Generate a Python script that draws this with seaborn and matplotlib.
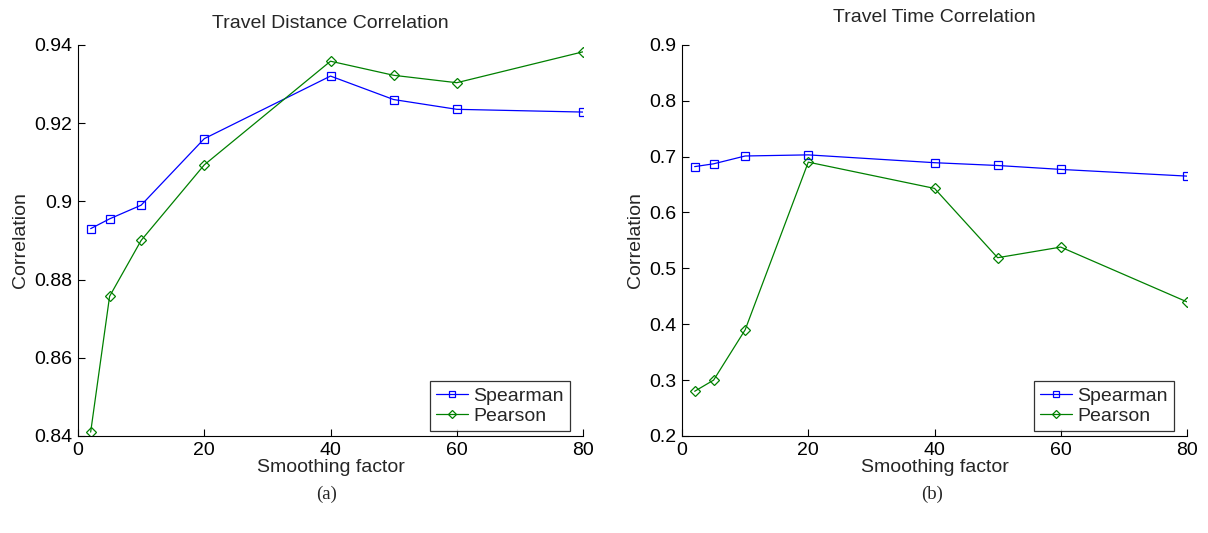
import numpy as np
import pandas as pd
import matplotlib
matplotlib.use("Agg")
import matplotlib.pyplot as plt
import seaborn as sns

# dados
smoothing = [2, 5, 10, 20, 40, 50, 60, 80]
dist_spearman = [0.893, 0.8955, 0.899, 0.916, 0.932, 0.926, 0.9235, 0.9228]
dist_pearson = [0.841, 0.8757, 0.890, 0.9093, 0.9358, 0.9322, 0.9303, 0.9382]
time_spearman = [0.682, 0.687, 0.701, 0.703, 0.689, 0.684, 0.677, 0.665]
time_pearson = [0.280, 0.300, 0.390, 0.690, 0.643, 0.519, 0.538, 0.440]

sns.set_style("ticks")
plt.rcParams['font.family'] = ['Liberation Sans', 'DejaVu Sans']

FS = 14

fig = plt.figure(figsize=(12.08, 5.33), dpi=100)
ax1 = fig.add_axes([0.0646, 0.182, 0.418, 0.734])
ax2 = fig.add_axes([0.5646, 0.182, 0.418, 0.734])


def painel(ax, spear, pear, titulo, ylim, yticks, ylabels, title_y):
    df = pd.DataFrame({
        'x': smoothing * 2,
        'y': spear + pear,
        'serie': ['Spearman'] * len(smoothing) + ['Pearson'] * len(smoothing),
    })
    sns.lineplot(data=df, x='x', y='y', hue='serie', style='serie',
                 palette={'Spearman': '#0000ff', 'Pearson': '#008000'},
                 markers={'Spearman': 's', 'Pearson': 'D'},
                 dashes=False, markersize=5.5, markerfacecolor='none',
                 markeredgewidth=0.9, linewidth=0.9, ax=ax)
    for ln in ax.lines:
        ln.set_markeredgecolor(ln.get_color())
        ln.set_markerfacecolor('none')
        if ln.get_marker() == 'D':
            ln.set_markersize(4.8)
    ax.set_xlim(0, 80)
    ax.set_ylim(*ylim)
    ax.set_xticks([0, 20, 40, 60, 80])
    ax.set_yticks(yticks)
    ax.set_yticklabels(ylabels)
    ax.tick_params(direction='in', labelsize=FS, length=5, width=0.8, pad=4, colors='black')
    ax.set_xlabel('Smoothing factor', fontsize=FS, labelpad=0)
    ax.set_ylabel('Correlation', fontsize=FS, labelpad=4)
    ax.set_title(titulo, fontsize=FS, pad=12, y=title_y)
    for s in ['top', 'right']:
        ax.spines[s].set_visible(False)
    for s in ['left', 'bottom']:
        ax.spines[s].set_linewidth(0.8)
        ax.spines[s].set_color('black')
    leg = ax.legend(loc='lower right', bbox_to_anchor=(0.974, 0.013), borderaxespad=0,
                    fontsize=FS, frameon=True, fancybox=False, edgecolor='black',
                    handlelength=1.65, borderpad=0.3, labelspacing=0.15,
                    handletextpad=0.3)
    leg.get_frame().set_linewidth(0.9)
    for h in leg.legend_handles:
        h.set_markerfacecolor('none')
        h.set_markeredgecolor(h.get_color())
        h.set_markersize(4)


painel(ax1, dist_spearman, dist_pearson, 'Travel Distance Correlation',
       (0.84, 0.94), [0.84, 0.86, 0.88, 0.90, 0.92, 0.94],
       ['0.84', '0.86', '0.88', '0.9', '0.92', '0.94'], 1.0)
painel(ax2, time_spearman, time_pearson, 'Travel Time Correlation',
       (0.2, 0.9), [0.2, 0.3, 0.4, 0.5, 0.6, 0.7, 0.8, 0.9],
       ['0.2', '0.3', '0.4', '0.5', '0.6', '0.7', '0.8', '0.9'], 1.016)

fig.text(327 / 1208, 1 - 494 / 533, '(a)', ha='center', va='center', fontsize=13.5,
         family=['Liberation Serif', 'DejaVu Serif'])
fig.text(932 / 1208, 1 - 494 / 533, '(b)', ha='center', va='center', fontsize=13.5,
         family=['Liberation Serif', 'DejaVu Serif'])

fig.savefig('out.png', dpi=100)
